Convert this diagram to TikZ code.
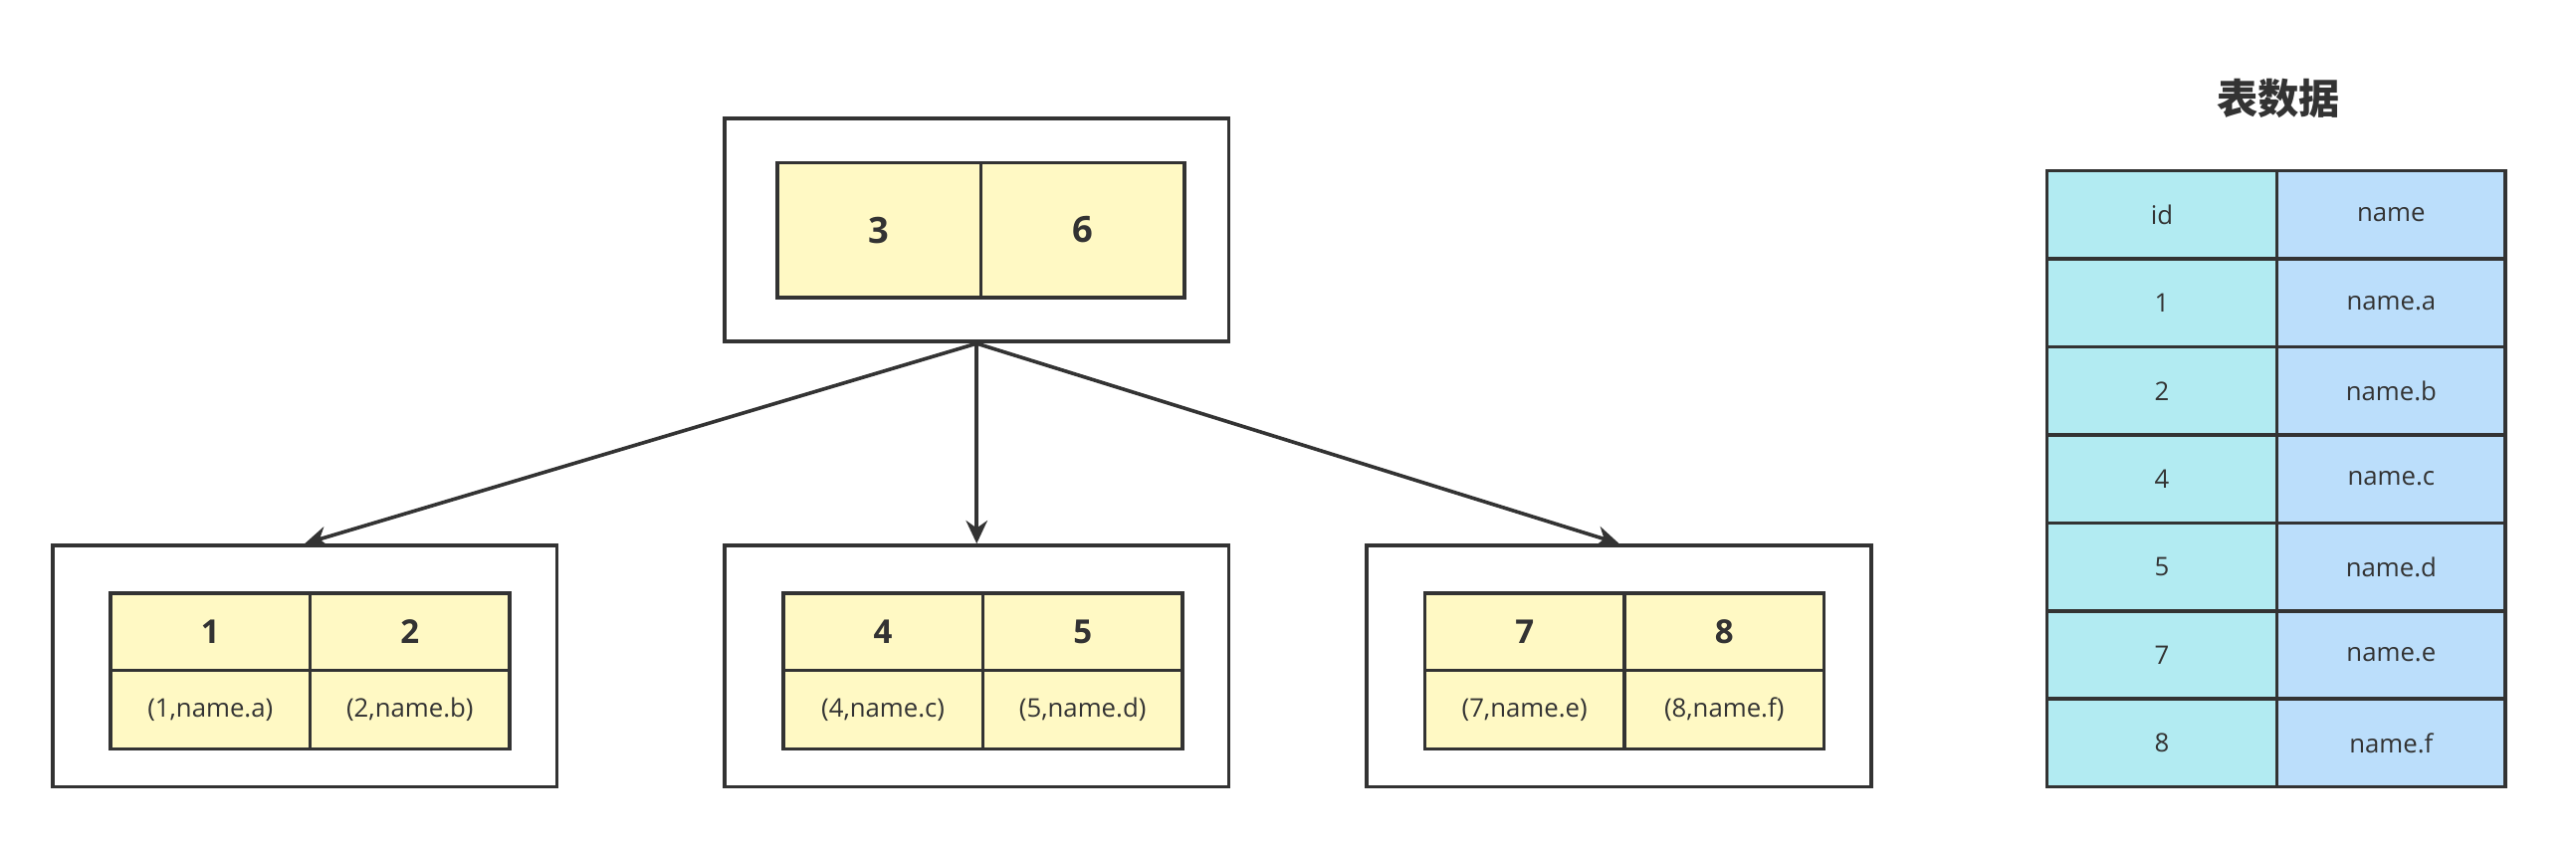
\documentclass[tikz,border=0pt]{standalone}
\usepackage{fontspec}
\setmainfont{Open Sans}
\newfontfamily\cjk{Noto Sans CJK SC}
\usetikzlibrary{positioning, arrows.meta}
\definecolor{keyfill}{HTML}{FFF9C4}
\definecolor{idfill}{HTML}{B2EBF2}
\definecolor{namefill}{HTML}{BBDEFB}
\definecolor{ink}{HTML}{333333}
\tikzset{
  % B+ tree pages
  pagebox/.style  = { draw=ink, line width=1.1pt, minimum width=153.5pt,
                       minimum height=73.5pt, inner sep=0 },
  rootbox/.style  = { pagebox, minimum height=68pt },
  cell/.style     = { draw=ink, line width=1.1pt, fill=keyfill, inner sep=0,
                       outer sep=0, text=ink },
  rootkey/.style  = { cell, minimum width=62pt, minimum height=41pt,
                       font=\bfseries\fontsize{11}{13}\selectfont },
  leafkey/.style  = { cell, minimum width=60.75pt, minimum height=23.5pt,
                       font=\bfseries\fontsize{10}{12}\selectfont },
  leafval/.style  = { cell, minimum width=60.75pt, minimum height=24pt,
                       font=\fontsize{7.8}{10}\selectfont },
  link/.style     = { draw=ink, line width=1.1pt, -{Stealth[length=7pt, width=6.5pt]} },
  % Table
  tabcell/.style  = { draw=ink, line width=1.1pt, inner sep=0, outer sep=0,
                       minimum height=26.8pt, text=ink, font=\fontsize{7.8}{10}\selectfont },
  idcell/.style   = { tabcell, fill=idfill, minimum width=70pt },
  namecell/.style = { tabcell, fill=namefill, minimum width=69.5pt },
  tabtitle/.style = { text=ink, font=\cjk\bfseries\fontsize{12.5}{14}\selectfont }
}

\begin{document}
\begin{tikzpicture}[x=0.5pt, y=-0.5pt]
  \useasboundingbox (0,0) rectangle (1568,517);

  % --- Root page ------------------------------------------------------
  \node[rootbox] (root) at (594.5,140) {};
  \node[rootkey] (rk1) at (535,140) {3};
  \node[rootkey, right=0pt of rk1] (rk2) {6};

  % --- Leaf pages -----------------------------------------------------
  \node[pagebox] (la) at (185.5,405.5) {};
  \node[pagebox] (lb) at (594.5,405.5) {};
  \node[pagebox] (lc) at (985.5,405.5) {};

  \foreach \p/\cx/\ka/\kb/\na/\nb in {la/128/1/2/a/b, lb/537.5/4/5/c/d, lc/928/7/8/e/f}{
    \node[leafkey] (\p-k1) at (\cx,384.5) {\ka};
    \node[leafkey, right=0pt of \p-k1] (\p-k2) {\kb};
    \node[leafval, below=0pt of \p-k1] (\p-v1) {(\ka,name.\na)};
    \node[leafval, below=0pt of \p-k2] (\p-v2) {(\kb,name.\nb)};
  }

  \foreach \p in {la,lb,lc}
    \draw[link] (root.south) -- (\p.north);

  % --- Table data -----------------------------------------------------
  \node[tabtitle] (title) at (1387,60) {表数据};
  \foreach \i/\rid/\rname in {0/id/name, 1/1/name.a, 2/2/name.b, 3/4/name.c,
                              4/5/name.d, 5/7/name.e, 6/8/name.f}{
    \node[idcell] (id\i) at (1316,{130.8+53.57*\i}) {\rid};
    \node[namecell, right=0pt of id\i] (nm\i) {\rname};
  }

\end{tikzpicture}
\end{document}
